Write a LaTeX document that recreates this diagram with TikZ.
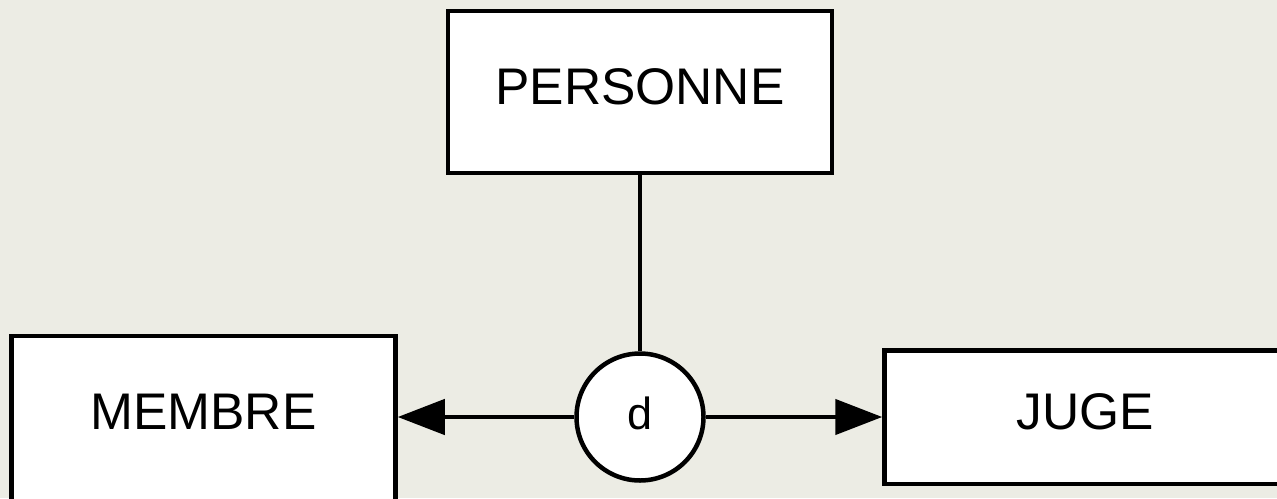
\documentclass[tikz,border=0pt]{standalone}
\usepackage{fontspec}
\setmainfont{Liberation Sans}
\usetikzlibrary{arrows.meta}

\definecolor{fond}{RGB}{236,236,228}

\tikzset{
	entite/.style={draw, fill=white, line width=4.5pt, inner sep=0pt,
		minimum width=384pt, minimum height=162pt, text depth=11pt,
		font=\fontsize{51.5}{60}\selectfont},
	disjoint/.style={draw, fill=white, circle, line width=4.5pt, inner sep=0pt,
		minimum size=127pt, text depth=8pt, font=\fontsize{45}{52}\selectfont},
	lien/.style={line width=4.5pt},
	fleche/.style={line width=4.5pt, -{Triangle[length=47pt, width=35pt]}}
}

\begin{document}
\begin{tikzpicture}[x=1pt, y=-1pt]
	\fill[fond] (0,0) rectangle (1277,498);
	\useasboundingbox (0,0) rectangle (1277,498);
	\clip (0,0) rectangle (1277,498);

	\node[entite] (personne) at (640, 92) {PERSONNE};
	% bas de la boite hors cadre
	\node[entite, minimum height=170pt, text depth=19pt] (membre) at (203.5, 421) {MEMBRE};
	\node[entite, minimum width=402pt, minimum height=133.5pt] (juge) at (1085.5, 417.25) {JUGE};

	\node[disjoint] (d) at (640, 417) {d};

	\draw[lien] (personne) -- (d);
	\draw[fleche] (d) -- (d -| membre.east);
	\draw[fleche] (d) -- (d -| juge.west);
\end{tikzpicture}
\end{document}
